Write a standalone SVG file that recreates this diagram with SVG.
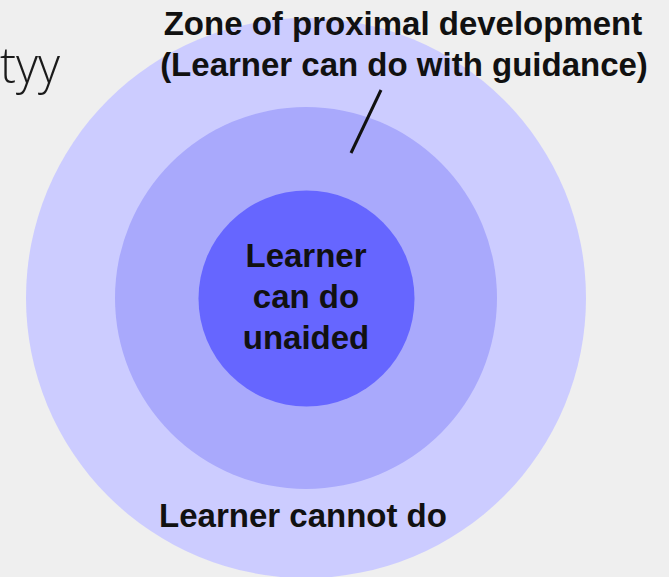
<svg xmlns="http://www.w3.org/2000/svg" width="669" height="577" viewBox="0 0 669 577">
<style>
.lbl{font-family:"Liberation Sans",Arial,sans-serif;font-weight:bold;font-size:33px;fill:#111;text-anchor:middle}
</style>
<rect width="669" height="577" fill="#efefef"/>
<g id="outer"><circle cx="306" cy="298" r="280" fill="#ccccff"/></g>
<g id="middle"><circle cx="306" cy="298" r="191" fill="#a9a9fc"/></g>
<g id="inner"><circle cx="306.5" cy="298.5" r="108" fill="#6666ff"/>
<text class="lbl" x="306" y="267">Learner</text>
<text class="lbl" x="306" y="308">can do</text>
<text class="lbl" x="306" y="349">unaided</text>
</g>
<g id="zpd-label">
<text class="lbl" x="403" y="35">Zone of proximal development</text>
<text class="lbl" x="404" y="76">(Learner can do with guidance)</text>
</g>
<g id="connectors"><line x1="381" y1="90" x2="351" y2="153" stroke="#111" stroke-width="3"/></g>
<g id="cannot-label"><text class="lbl" x="303" y="527">Learner cannot do</text></g>
<text x="0" y="83" font-family="'Open Sans',sans-serif" font-weight="300" font-size="50" fill="#1a1a1a" textLength="60" lengthAdjust="spacingAndGlyphs">tyy</text>
</svg>
